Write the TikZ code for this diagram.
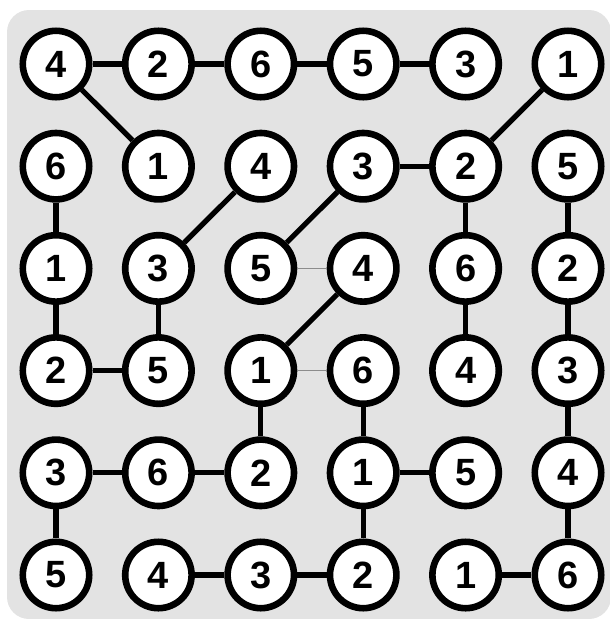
\documentclass[tikz,border=0pt]{standalone}
\usepackage{fontspec}
\setsansfont{Liberation Sans}
\usepackage{tikz}
\usetikzlibrary{positioning, backgrounds}

\begin{document}
\begin{tikzpicture}[
  x=0.025cm, y=-0.025cm,
  cell/.style={circle, draw=black, fill=white, line width=1.65mm, minimum size=1.66cm, inner sep=0pt,
    font=\fontsize{27}{27}\selectfont\sffamily\bfseries},
  link/.style={line width=1.3mm, draw=black},
  faint/.style={line width=0.3mm, draw=black!45},
  panel/.style={fill=black!11, rounded corners=0.55cm},
]
\useasboundingbox (0,0) rectangle (610,619);

% --- Circles, row by row ---
\foreach \vals [count=\r] in {{4,2,6,5,3,1},{6,1,4,3,2,5},{1,3,5,4,6,2},{2,5,1,6,4,3},{3,6,2,1,5,4},{5,4,3,2,1,6}} {
  \foreach \d [count=\c] in \vals {
    \node[cell] (n\r\c) at ({56+102.4*(\c-1)}, {64+102.2*(\r-1)}) {\d};
  }
}

% --- Thick links ---
\foreach \a/\b in {n11/n12, n12/n13, n13/n14, n14/n15, n11/n22, n16/n25,
                   n24/n25, n23/n32, n24/n33, n21/n31, n25/n35, n26/n36,
                   n31/n41, n32/n42, n34/n43, n35/n45, n36/n46, n41/n42,
                   n43/n53, n44/n54, n46/n56, n51/n52, n52/n53, n54/n55,
                   n51/n61, n54/n64, n56/n66, n62/n63, n63/n64, n65/n66} {
  \draw[link] (\a) -- (\b);
}

% --- Thin links ---
\draw[faint] (n33) -- (n34);
\draw[faint] (n43) -- (n44);

% --- Panel ---
\begin{scope}[on background layer]
\fill[panel] (7,10) rectangle (611,619);
\end{scope}

\end{tikzpicture}
\end{document}
